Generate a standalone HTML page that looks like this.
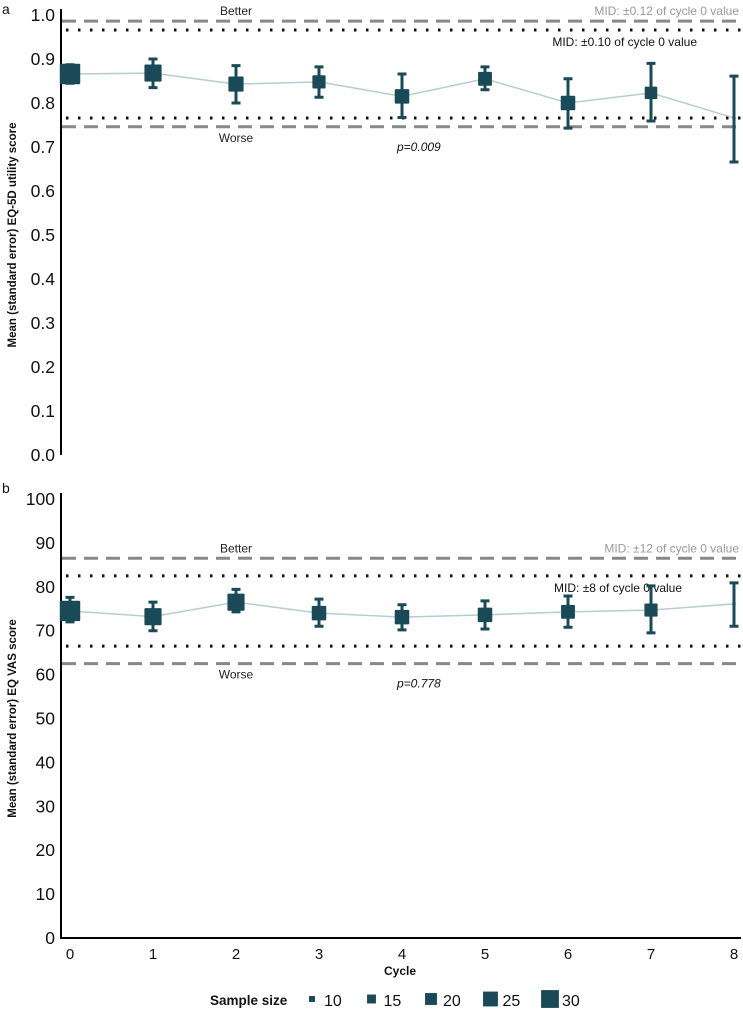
<!DOCTYPE html>
<html><head><meta charset="utf-8"><style>
body{margin:0;background:#fff;}
svg{display:block;font-family:"Liberation Sans",Arial,sans-serif;}
</style></head><body>
<svg id="chart" width="743" height="1016" viewBox="0 0 743 1016" xmlns="http://www.w3.org/2000/svg"></svg>
<script>
const cycles=[0,1,2,3,4,5,6,7,8];
const utilMean=[0.866,0.868,0.843,0.848,0.815,0.855,0.800,0.823,0.766];
const utilLo=[0.845,0.835,0.800,0.813,0.767,0.830,0.743,0.759,0.666];
const utilHi=[0.887,0.900,0.885,0.882,0.866,0.882,0.855,0.890,0.861];
const utilN=[31,26,23,20,22,21,22,19,5];
const vasMean=[74.5,73.2,76.5,74.0,73.1,73.6,74.3,74.7,76.1];
const vasLo=[72.0,70.0,74.3,71.0,70.2,70.4,70.8,69.5,71.0];
const vasHi=[77.6,76.5,79.4,77.2,75.9,76.8,77.9,80.2,80.9];
const vasN=[31,26,26,22,22,22,21,20,5];
const utilTicks=["0.0","0.1","0.2","0.3","0.4","0.5","0.6","0.7","0.8","0.9","1.0"];
const vasTicks=[0,10,20,30,40,50,60,70,80,90,100];
const legendSizes=[10,15,20,25,30];
const utilMid=[0.12,0.10];
const vasMid=[12,8];

const svg=document.getElementById('chart');
const NS='http://www.w3.org/2000/svg';
function mk(tag,attrs,text){const e=document.createElementNS(NS,tag);for(const k in attrs)e.setAttribute(k,attrs[k]);if(text!==undefined)e.textContent=text;svg.appendChild(e);return e;}
const X=c=>70+c*83;
const Ya=v=>455-440*v;
const Yb=v=>938-4.39*v;
const C='#1a4a57';
const sz=n=>0.66*n;

function panel(key,Y,mean,lo,hi,N,ticks,tickVal,mid,yTitle,labels){
  let ax=mk('line',{x1:61,x2:61,y1:Y(tickVal(ticks[ticks.length-1]))-6,y2:Y(0),stroke:'#000','stroke-width':2});
  
  
  ticks.forEach(t=>{
    const e=mk('text',{x:55,y:Y(tickVal(t))+6,'text-anchor':'end','font-size':17.5,fill:'#111'},String(t));
    
    
  });
  const base=mean[0];
  const dashHi=Y(base+mid[0]),dashLo=Y(base-mid[0]),dotHi=Y(base+mid[1]),dotLo=Y(base-mid[1]);
  [[dashHi,'dash-upper'],[dashLo,'dash-lower']].forEach(([y,n])=>{
    const e=mk('line',{x1:62,x2:743,y1:y,y2:y,stroke:'#888','stroke-width':3,'stroke-dasharray':'14 8'});
    
    
  });
  [[dotHi,'dot-upper'],[dotLo,'dot-lower']].forEach(([y,n])=>{
    const e=mk('line',{x1:66,x2:743,y1:y,y2:y,stroke:'#111','stroke-width':3,'stroke-dasharray':'2.5 9.5','stroke-linecap':'butt'});
    
    
  });
  let t;
  t=mk('text',{x:236,y:dashHi-6,'text-anchor':'middle','font-size':12,fill:'#222'},'Better');
  t=mk('text',{x:236,y:dashLo+15,'text-anchor':'middle','font-size':12,fill:'#222'},'Worse');
  t=mk('text',{x:739,y:dashHi-6,'text-anchor':'end','font-size':12,fill:'#999'},labels[0]);
  t=mk('text',{x:labels[2],y:dotHi+16,'text-anchor':'end','font-size':12,fill:'#111'},labels[1]);
  t=mk('text',{x:397,y:dashLo+24,'font-size':12,'font-style':'italic',fill:'#111'},labels[3]);
  const pl=mk('polyline',{points:cycles.map((c,i)=>X(c)+','+Y(mean[i])).join(' '),fill:'none',stroke:'#b6cdd0','stroke-width':1.5});
  
  
  cycles.forEach((c,i)=>{
    const x=X(c);
    const eb=mk('path',{d:`M${x},${Y(lo[i])}V${Y(hi[i])}M${x-4.5},${Y(lo[i])}H${x+4.5}M${x-4.5},${Y(hi[i])}H${x+4.5}`,stroke:C,'stroke-width':3,fill:'none'});
    
    
    const s=sz(N[i]);
    const r=mk('rect',{x:x-s/2,y:Y(mean[i])-s/2,width:s,height:s,fill:C,rx:1});
    
    
  });
  t=mk('text',{x:0,y:0,'text-anchor':'middle','font-size':11.5,'font-weight':'bold',fill:'#111',transform:`translate(16,${(Y(0)+Y(tickVal(ticks[ticks.length-1])))/2}) rotate(-90)`},yTitle);
  
}
let l;
l=mk('text',{x:2,y:14,'font-size':14,fill:'#111'},'a');
l=mk('text',{x:2,y:493,'font-size':14,fill:'#111'},'b');
panel('util',Ya,utilMean,utilLo,utilHi,utilN,utilTicks,t=>parseFloat(t),utilMid,'Mean (standard error) EQ-5D utility score',['MID: ±0.12 of cycle 0 value','MID: ±0.10 of cycle 0 value',697,'p=0.009']);
panel('vas',Yb,vasMean,vasLo,vasHi,vasN,vasTicks,t=>t,vasMid,'Mean (standard error) EQ VAS score',['MID: ±12 of cycle 0 value','MID: ±8 of cycle 0 value',682,'p=0.778']);
l=mk('line',{x1:60,x2:741,y1:938,y2:938,stroke:'#000','stroke-width':2});
cycles.forEach(c=>{const e=mk('text',{x:X(c),y:959,'text-anchor':'middle','font-size':15,fill:'#111'},String(c));});
l=mk('text',{x:400,y:975,'text-anchor':'middle','font-size':12,'font-weight':'bold',fill:'#111'},'Cycle');
l=mk('text',{x:210,y:1005,'font-size':13.5,'font-weight':'bold',fill:'#111'},'Sample size');
legendSizes.forEach((n,i)=>{
  const cx=312+i*59.5,s=sz(n)*0.9;
  const r=mk('rect',{x:cx-s/2,y:999-s/2,width:s,height:s,fill:C});
  
  
  const e=mk('text',{x:cx+12,y:1006,'font-size':16,fill:'#111'},String(n));
  
  
});
</script>
</body></html>
